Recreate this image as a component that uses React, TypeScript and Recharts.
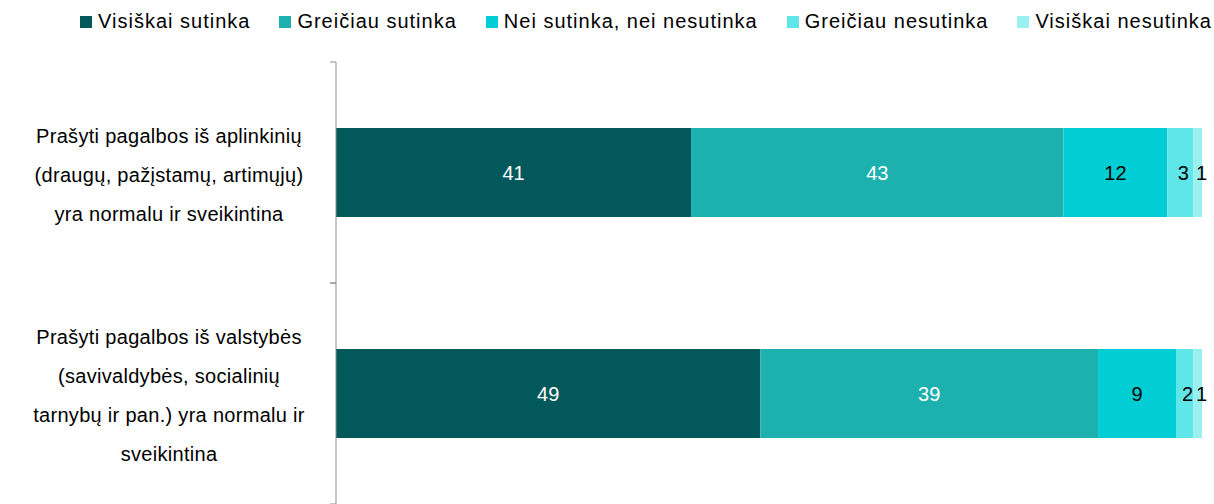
import { BarChart, Bar, XAxis, YAxis, LabelList } from 'recharts';

const categories = [
  'Prašyti pagalbos iš aplinkinių\n(draugų, pažįstamų, artimųjų)\nyra normalu ir sveikintina',
  'Prašyti pagalbos iš valstybės\n(savivaldybės, socialinių\ntarnybų ir pan.) yra normalu ir\nsveikintina',
];

const visiskaiSutinka = [41, 49];
const greiciauSutinka = [43, 39];
const neiSutinka = [12, 9];
const greiciauNesutinka = [3, 2];
const visiskaiNesutinka = [1, 1];

const series = [
  { key: 'vs', name: 'Visiškai sutinka', values: visiskaiSutinka, color: '#03585c', label: '#ffffff', dx: 0 },
  { key: 'gs', name: 'Greičiau sutinka', values: greiciauSutinka, color: '#1cb1ae', label: '#ffffff', dx: 0 },
  { key: 'ns', name: 'Nei sutinka, nei nesutinka', values: neiSutinka, color: '#00ced4', label: '#000000', dx: 0 },
  { key: 'gn', name: 'Greičiau nesutinka', values: greiciauNesutinka, color: '#5ee6e8', label: '#000000', dx: 3 },
  { key: 'vn', name: 'Visiškai nesutinka', values: visiskaiNesutinka, color: '#9aefef', label: '#000000', dx: 4 },
];

const data = categories.map((name, i) => {
  const row: { [k: string]: string | number } = { name };
  series.forEach((s) => {
    row[s.key] = s.values[i];
  });
  return row;
});

const FONT = '"Liberation Sans", Arial, sans-serif';

const CategoryTick = (props: any) => {
  const { x, y, payload } = props;
  const lines: string[] = String(payload.value).split('\n');
  const half = payload.offset || 111;
  const lineH = 39;
  const startY = y + 2 - ((lines.length - 1) * lineH) / 2;
  const axisX = x + 8;
  return (
    <g>
      <line x1={axisX - 6} x2={axisX} y1={y - half} y2={y - half} stroke="#8c8c8c" />
      <line x1={axisX - 6} x2={axisX} y1={y + half} y2={y + half} stroke="#8c8c8c" />
      <text textAnchor="middle" fontSize={20} letterSpacing={0.3} fill="#000" fontFamily={FONT}>
        {lines.map((l, i) => (
          <tspan key={i} x={axisX - 167} y={startY + i * lineH} dy="0.35em">
            {l}
          </tspan>
        ))}
      </text>
    </g>
  );
};

const makeLabel = (color: string, dx: number) => (props: any) => {
  const { x, y, width, height, value } = props;
  return (
    <text
      x={x + width / 2 + dx}
      y={y + height / 2}
      dy="0.35em"
      textAnchor="middle"
      fill={color}
      fontSize={20}
      fontFamily={FONT}
    >
      {value}
    </text>
  );
};

const App = () => {
  return (
    <div style={{ position: 'absolute', left: 0, top: 0, width: 1214, height: 504, fontFamily: FONT }}>
      <div
        style={{
          position: 'absolute',
          top: 10,
          right: 2,
          display: 'flex',
          alignItems: 'center',
          fontSize: 20,
          letterSpacing: 1,
          color: '#000',
          whiteSpace: 'nowrap',
        }}
      >
        {series.map((s) => (
          <div key={s.key} style={{ display: 'flex', alignItems: 'center', marginLeft: 29 }}>
            <span style={{ width: 12, height: 12, background: s.color, marginRight: 6, display: 'inline-block' }} />
            <span>{s.name}</span>
          </div>
        ))}
      </div>
      <BarChart
        width={1214}
        height={504}
        data={data}
        layout="vertical"
        margin={{ top: 62, right: 12, bottom: 0, left: 0 }}
        barSize={89}
      >
        <XAxis type="number" domain={[0, 100]} hide />
        <YAxis
          type="category"
          dataKey="name"
          width={336}
          axisLine={{ stroke: '#8c8c8c' }}
          tickLine={false}
          tick={<CategoryTick />}
          interval={0}
        />
        {series.map((s) => (
          <Bar key={s.key} dataKey={s.key} name={s.name} stackId="a" fill={s.color} isAnimationActive={false}>
            <LabelList dataKey={s.key} content={makeLabel(s.label, s.dx)} />
          </Bar>
        ))}
      </BarChart>
    </div>
  );
};

export default App;
